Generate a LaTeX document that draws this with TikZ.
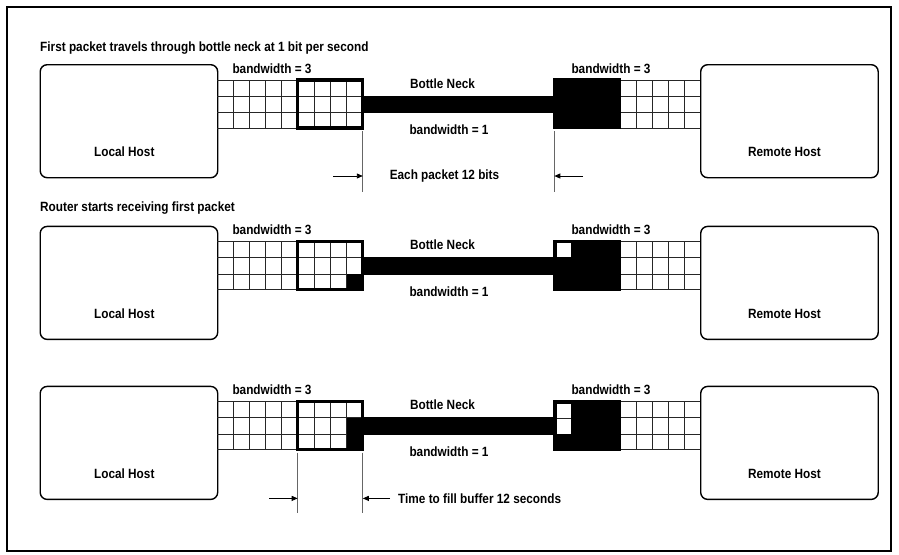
\documentclass[tikz,border=0pt]{standalone}
\usepackage{fontspec}
\setmainfont{Liberation Sans}[FakeStretch=0.88]
\usetikzlibrary{arrows.meta}
\begin{document}
\begin{tikzpicture}[x=1pt,y=-1pt,
  lbl/.style={font=\bfseries\fontsize{13.4}{15}\selectfont, inner sep=0pt},
  host/.style={draw, line width=1.4pt, rounded corners=7pt, minimum width=177.5pt, minimum height=113pt, anchor=north west, inner sep=0pt},
  gridln/.style={line width=0.9pt, draw=black!85},
  thickbox/.style={line width=3.2pt},
  dimln/.style={line width=0.9pt, draw=black!60},
  dimarr/.style={line width=0.9pt, -{Triangle[length=6pt,width=5pt]}},
]
\useasboundingbox (0,0) rectangle (899,554);
\draw[line width=1.6pt] (7,7) rectangle (891,551);

\newcommand\linkpanel[2]{%
\begin{scope}[shift={(0,#2)}, name prefix=#1-]
  \node[host] (local) at (39.5,64) {};
  \node[host] (remote) at (700,64) {};
  \node[lbl] (locallbl) at (124.3,152) {Local Host};
  \node[lbl] (remotelbl) at (784.5,152) {Remote Host};
  % left grid
  \foreach \yy in {80,96.2,112.4,128} \draw[gridln] (217,\yy) -- (362.8,\yy);
  \foreach \i in {1,...,8} \draw[gridln] (217+\i*16.2,80) -- (217+\i*16.2,128);
  % right grid
  \foreach \yy in {80,96.2,112.4,128} \draw[gridln] (621,\yy) -- (700,\yy);
  \foreach \i in {1,...,4} \draw[gridln] (621+\i*15.8,80) -- (621+\i*15.8,128);
  % bottle neck bar
  \fill (362.8,95.5) rectangle (554.3,112.8);
  % right black block
  \fill (554.3,79.9) rectangle (619.4,127.4);
  \draw[thickbox] (554.3,79.9) rectangle (619.4,127.4);
  \coordinate (lbr) at (362.8,128);
  \coordinate (rbl) at (554.3,128);
  \node[lbl] (bwleft) at (272,68.3) {bandwidth = 3};
  \node[lbl] (bwright) at (611,68.3) {bandwidth = 3};
  \node[lbl] (neck) at (442.5,83.3) {Bottle Neck};
  \node[lbl] (bwneck) at (449,130) {bandwidth = 1};
\end{scope}}

\newcommand\leftbox[1]{\draw[thickbox] (297.7,80+#1) rectangle (362.8,128+#1);}

% ---------- panel 1
\node[lbl, anchor=west] (title1) at (40,47.7) {First packet travels through bottle neck at 1 bit per second};
\linkpanel{p1}{0}
\leftbox{0}
\coordinate (d1a) at (362.8,131);
\coordinate (d1b) at (362.8,192);
\coordinate (d1c) at (554.3,131);
\coordinate (d1d) at (554.3,192);
\draw[dimln] (d1a) -- (d1b);
\draw[dimln] (d1c) -- (d1d);
\node[lbl] (each) at (444.5,176) {Each packet 12 bits};
\coordinate (a1s) at (333,176);
\coordinate (a1e) at (362.8,176);
\coordinate (a2s) at (583,176);
\coordinate (a2e) at (554.3,176);
\draw[dimarr] (a1s) -- (a1e);
\draw[dimarr] (a2s) -- (a2e);

% ---------- panel 2
\node[lbl, anchor=west] (title2) at (40,208) {Router starts receiving first packet};
\linkpanel{p2}{161.7}
\fill (346.6,112.4+161.7) rectangle (362.8,128+161.7);
\leftbox{161.7}
\fill[white] (557,81.7+161.7) rectangle (570.7,95.1+161.7);

% ---------- panel 3
\linkpanel{p3}{321.7}
\fill (346.6,96.2+321.7) rectangle (362.8,128+321.7);
\leftbox{321.7}
\fill[white] (556.8,82.6+321.7) rectangle (570.7,112.6+321.7);
\draw[gridln] (556.8,96.6+321.7) -- (570.7,96.6+321.7);
\coordinate (d3a) at (297.7,131+321.7);
\coordinate (d3b) at (297.7,191.5+321.7);
\coordinate (d3c) at (362.8,131+321.7);
\coordinate (d3d) at (362.8,191.5+321.7);
\draw[dimln] (d3a) -- (d3b);
\draw[dimln] (d3c) -- (d3d);
\coordinate (a3s) at (269,176.7+321.7);
\coordinate (a3e) at (297.7,176.7+321.7);
\coordinate (a4s) at (390,176.7+321.7);
\coordinate (a4e) at (362.8,176.7+321.7);
\draw[dimarr] (a3s) -- (a3e);
\draw[dimarr] (a4s) -- (a4e);
\node[lbl, anchor=west] (fill) at (398,176.7+321.7) {Time to fill buffer 12 seconds};
\end{tikzpicture}
\end{document}
